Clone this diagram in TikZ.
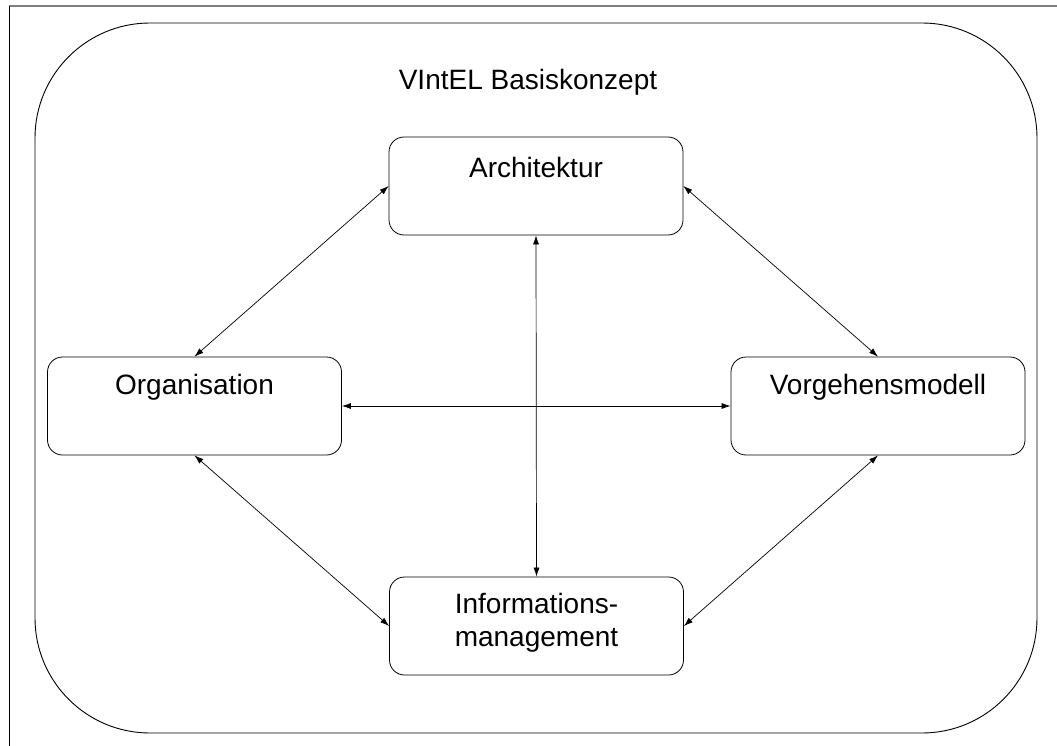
\documentclass[tikz,border=0pt]{standalone}
\usepackage{fontspec}
\setmainfont{Liberation Sans}
\usetikzlibrary{arrows.meta}
\begin{document}
\begin{tikzpicture}[x=1pt,y=-1pt,
  box/.style={draw,rounded corners=15pt,line width=0.8pt,minimum width=294pt,minimum height=98pt,inner sep=0pt},
  lbl/.style={font=\fontsize{28}{33}\selectfont,inner sep=0pt,align=center},
  link/.style={{Latex[length=9pt,width=6pt]}-{Latex[length=9pt,width=6pt]},line width=0.7pt}]
\useasboundingbox (0,0) rectangle (1057,746);
\draw[gray,line width=1.4pt] (9,6) -- (1057,6);
\draw[line width=1pt] (9,6) -- (9,746);
\draw[line width=0.9pt, rounded corners=115pt] (35,23) rectangle (1037,733);
\node[lbl] (title) at (528,82) {VIntEL Basiskonzept};
\node[box] (arch) at (536,186) {};
\node[lbl] (archT) at (536,167) {Architektur};
\node[box] (org) at (194.5,406) {};
\node[lbl] (orgT) at (194.5,387) {Organisation};
\node[box] (vorg) at (878,406) {};
\node[lbl] (vorgT) at (878,387) {Vorgehensmodell};
\node[box] (info) at (536.5,626) {};
\node[lbl] (infoT) at (536.5,623) {Informations-\\management};
\draw[link] (arch.west) -- (org.north);
\draw[link] (arch.east) -- (vorg.north);
\draw[link] (org.south) -- (info.west);
\draw[link] (vorg.south) -- (info.east);
\draw[link] (org.east) -- (vorg.west);
\draw[link] (arch.south) -- (info.north);
\end{tikzpicture}
\end{document}
